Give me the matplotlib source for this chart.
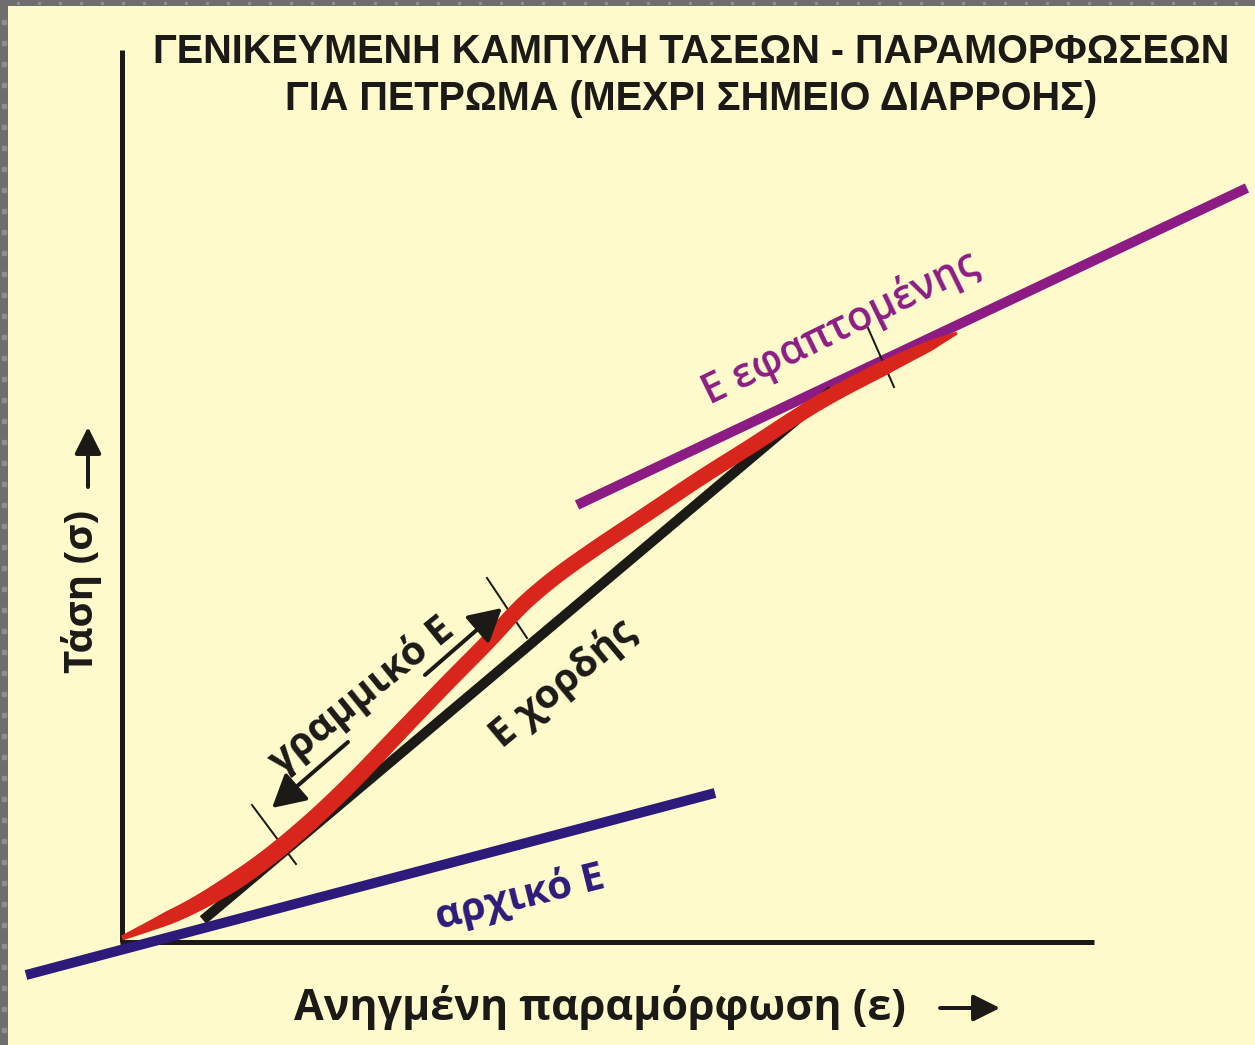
import numpy as np
import matplotlib.pyplot as plt
from matplotlib.patches import Rectangle, Polygon

# generalised stress-strain curve of rock (arbitrary units, origin at the axes corner)
strain = [0.00, 0.38, 0.78, 1.28, 1.78, 2.28, 2.78, 3.28, 3.68, 3.93, 4.11,
          4.38, 4.78, 5.28, 5.78, 6.28, 6.78, 7.08, 7.48, 7.88, 8.35]
stress = [0.04, 0.20, 0.39, 0.70, 1.10, 1.57, 2.10, 2.62, 3.02, 3.30, 3.47,
          3.69, 3.97, 4.30, 4.64, 4.95, 5.28, 5.46, 5.67, 5.87, 6.09]

# modulus lines (two end points each)
initial_x = [-0.96, 5.93]
initial_y = [-0.33, 1.49]
chord_x = [0.81, 7.10]
chord_y = [0.22, 5.52]
tangent_x = [4.55, 11.25]
tangent_y = [4.37, 7.54]

# short marks across the curve
mark_x = [(1.30, 1.74), (3.65, 4.05), (7.46, 7.72)]
mark_y = [(1.37, 0.78), (3.64, 3.04), (6.14, 5.55)]

title_lines = ["ΓΕΝΙΚΕΥΜΕΝΗ ΚΑΜΠΥΛΗ ΤΑΣΕΩΝ - ΠΑΡΑΜΟΡΦΩΣΕΩΝ",
               "ΓΙΑ ΠΕΤΡΩΜΑ (ΜΕΧΡΙ ΣΗΜΕΙΟ ΔΙΑΡΡΟΗΣ)"]

BG = "#fefacc"
RED = "#d9261d"
INK = "#1c1a17"
NAVY = "#2c1b7a"
PURPLE = "#8c1c84"
PX = 0.72  # points per pixel at dpi 100


def smooth_curve(x, y, n=20):
    """Quadratic Bezier pieces through the midpoints, using the points as controls."""
    x = np.asarray(x, float)
    y = np.asarray(y, float)
    mx = np.r_[x[0], (x[1:-2] + x[2:-1]) / 2, x[-1]]
    my = np.r_[y[0], (y[1:-2] + y[2:-1]) / 2, y[-1]]
    t = np.linspace(0, 1, n)[:, None]
    out = []
    for i in range(len(mx) - 1):
        p0 = np.array([mx[i], my[i]])
        p1 = np.array([x[i + 1], y[i + 1]])
        p2 = np.array([mx[i + 1], my[i + 1]])
        seg = (1 - t) ** 2 * p0 + 2 * (1 - t) * t * p1 + t ** 2 * p2
        out.append(seg if i == 0 else seg[1:])
    return np.vstack(out)


def ribbon(curve, s_knots, w_knots):
    """Outline of a stroke whose width (in px) changes along the curve."""
    d = np.gradient(curve, axis=0)
    d /= np.hypot(d[:, 0], d[:, 1])[:, None]
    normal = np.column_stack([-d[:, 1], d[:, 0]])
    arc = np.r_[0, np.cumsum(np.hypot(*np.diff(curve, axis=0).T))]
    half = np.interp(arc / arc[-1], s_knots, w_knots) / 200.0  # 100 px per unit
    left = curve + normal * half[:, None]
    right = curve - normal * half[:, None]
    return np.vstack([left, right[::-1]])


fig = plt.figure(figsize=(12.55, 10.45), dpi=100, facecolor=BG)
ax = fig.add_axes([0, 0, 1, 1])
ax.set_facecolor(BG)
ax.set_xlim(-1.22, 11.33)
ax.set_ylim(-1.03, 9.42)
ax.axis("off")

# grey frame on the left and top edges
fig.patches.append(Rectangle((0, 0), 8 / 1255, 1, transform=fig.transFigure,
                             facecolor="#6e6e6e", edgecolor="none", zorder=0))
fig.patches.append(Rectangle((0, 1 - 6 / 1045), 1, 6 / 1045, transform=fig.transFigure,
                             facecolor="#6e6e6e", edgecolor="none", zorder=0))
dots_y = np.arange(1045 - 22, 0, -21)
fig.lines.append(plt.Line2D(np.full(dots_y.size, 4 / 1255), dots_y / 1045, ls="none",
                            marker="s", ms=2.2, color="#8e8e8e", transform=fig.transFigure))
dots_x = np.arange(18, 1255, 21)
fig.lines.append(plt.Line2D(dots_x / 1255, np.full(dots_x.size, 1 - 3 / 1045), ls="none",
                            marker="s", ms=2.0, color="#8e8e8e", transform=fig.transFigure))

# axes
ax.plot([0, 0], [0, 8.92], color=INK, lw=5 * PX, solid_capstyle="butt", zorder=1)
ax.plot([-0.02, 9.72], [0, 0], color=INK, lw=5 * PX, solid_capstyle="butt", zorder=1)

# modulus lines
ax.plot(tangent_x, tangent_y, color=PURPLE, lw=10 * PX, solid_capstyle="butt", zorder=2)
ax.plot(chord_x, chord_y, color=INK, lw=10 * PX, solid_capstyle="butt", zorder=3)
ax.plot(initial_x, initial_y, color=NAVY, lw=10 * PX, solid_capstyle="butt", zorder=5)

for mx, my in zip(mark_x, mark_y):
    ax.plot(mx, my, color=INK, lw=2 * PX, zorder=2.5)

# the curve, pointed at both ends
curve = smooth_curve(strain, stress)
outline = ribbon(curve, [0, 0.05, 0.12, 0.35, 0.92, 0.97, 1.0],
                 [5, 14, 18, 16, 15, 11, 3])
ax.add_patch(Polygon(outline, closed=True, facecolor=RED, edgecolor="none", zorder=4))

# arrows of the linear part
arrow = dict(arrowstyle="-|>,head_length=1.0,head_width=0.55", color=INK,
             lw=4 * PX, mutation_scale=20, shrinkA=0, shrinkB=0)
ax.annotate("", xy=(3.80, 3.34), xytext=(3.03, 2.67), arrowprops=arrow, zorder=6)
ax.annotate("", xy=(1.50, 1.34), xytext=(2.26, 2.00), arrowprops=arrow, zorder=6)

label_font = ["Open Sans", "DejaVu Sans"]
ax.text(2.40, 2.47, "γραμμικό Ε", rotation=39, rotation_mode="anchor",
        ha="center", va="center", fontsize=29, fontweight="bold",
        family=label_font, color=INK, zorder=7)
ax.text(4.41, 2.59, "Ε χορδής", rotation=40, rotation_mode="anchor",
        ha="center", va="center", fontsize=29, fontweight="bold",
        family=label_font, color=INK, zorder=7)
ax.text(3.98, 0.45, "αρχικό Ε", rotation=14, rotation_mode="anchor",
        ha="center", va="center", fontsize=29, fontweight="bold",
        family=label_font, color=NAVY, zorder=7)
ax.text(7.18, 6.14, "Ε εφαπτομένης", rotation=26, rotation_mode="anchor",
        ha="center", va="center", fontsize=29.5, fontweight="semibold",
        family=label_font, color=PURPLE, zorder=7)

# axis titles
ax.text(-0.29, 3.51, "Τάση (σ)", rotation=90, rotation_mode="anchor",
        ha="center", va="baseline", fontsize=29, fontweight="bold",
        family=label_font, color=INK)
ax.text(4.78, -0.78, "Ανηγμένη παραμόρφωση (ε)", ha="center", va="baseline",
        fontsize=31, fontweight="bold", family=label_font, color=INK)
small_arrow = dict(arrowstyle="-|>,head_length=0.9,head_width=0.45", color=INK,
                   lw=4 * PX, mutation_scale=18, shrinkA=0, shrinkB=0)
ax.annotate("", xy=(-0.34, 5.15), xytext=(-0.34, 4.55), arrowprops=small_arrow)
ax.annotate("", xy=(8.78, -0.66), xytext=(8.18, -0.66), arrowprops=small_arrow)

# title
for line, y in zip(title_lines, [8.79, 8.32]):
    ax.text(5.69, y, line, ha="center", va="baseline", fontsize=28.5,
            fontweight="bold", family=["Liberation Sans", "DejaVu Sans"], color=INK)

fig.savefig("out.png", dpi=100, facecolor=BG)
